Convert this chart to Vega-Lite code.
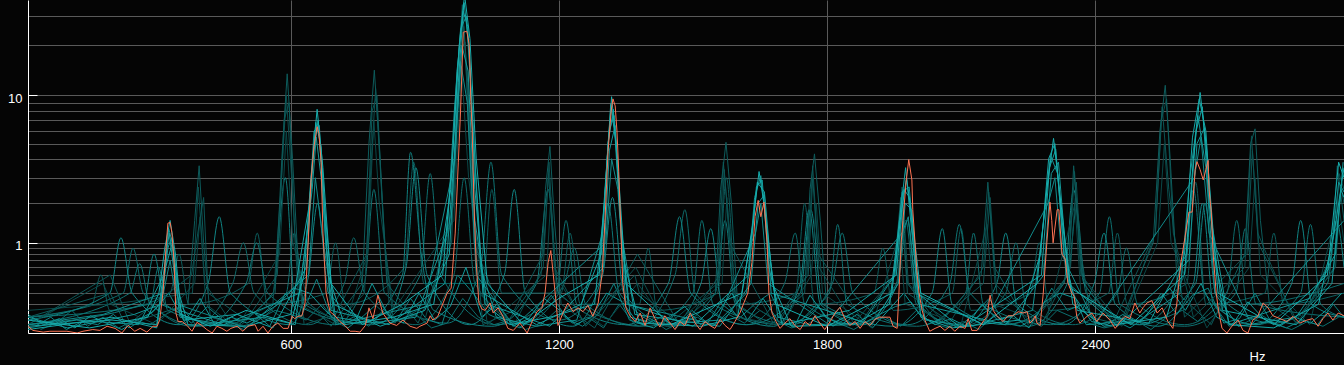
{
"$schema":"https://vega.github.io/schema/vega-lite/v6.json",
"width":1316,"height":333,
"autosize":{"type":"none"},
"padding":{"left":28,"top":0,"right":0,"bottom":32},
"background":"#050505",
"config":{"view":{"stroke":null},"axis":{"labelFont":"Liberation Sans","titleFont":"Liberation Sans"}},
"datasets":{
"teal":[
{"s":"fl3","hz":40,"amp":0.02},{"s":"fl3","hz":75,"amp":0.06},{"s":"fl3","hz":110,"amp":0.15},{"s":"fl3","hz":145,"amp":0.04},{"s":"fl3","hz":180,"amp":0.1},{"s":"fl3","hz":215,"amp":0.03},{"s":"fl3","hz":250,"amp":0.08},{"s":"fl3","hz":285,"amp":0.05},{"s":"fl3","hz":320,"amp":0.12},{"s":"fl3","hz":355,"amp":0.18},{"s":"fl3","hz":390,"amp":0.04},{"s":"fl3","hz":425,"amp":0.1},{"s":"fl3","hz":460,"amp":0.06},{"s":"fl3","hz":495,"amp":0.02},{"s":"fl3","hz":530,"amp":0.09},{"s":"fl3","hz":565,"amp":0.15},{"s":"fl3","hz":600,"amp":0.12},{"s":"fl3","hz":635,"amp":0.08},{"s":"fl3","hz":670,"amp":0.2},{"s":"fl3","hz":705,"amp":0.05},{"s":"fl3","hz":740,"amp":0.1},{"s":"fl3","hz":775,"amp":0.04},{"s":"fl3","hz":810,"amp":0.15},{"s":"fl3","hz":845,"amp":0.07},{"s":"fl3","hz":880,"amp":0.12},{"s":"fl3","hz":915,"amp":0.03},{"s":"fl3","hz":950,"amp":0.06},{"s":"fl3","hz":985,"amp":0.25},{"s":"fl3","hz":1020,"amp":0.1},{"s":"fl3","hz":1055,"amp":0.05},{"s":"fl3","hz":1090,"amp":0.08},{"s":"fl3","hz":1125,"amp":0.02},{"s":"fl3","hz":1160,"amp":0.05},{"s":"fl3","hz":1195,"amp":0.15},{"s":"fl3","hz":1230,"amp":0.06},{"s":"fl3","hz":1265,"amp":0.1},{"s":"fl3","hz":1300,"amp":0.03},{"s":"fl3","hz":1335,"amp":0.2},{"s":"fl3","hz":1370,"amp":0.05},{"s":"fl3","hz":1405,"amp":0.09},{"s":"fl3","hz":1440,"amp":0.02},{"s":"fl3","hz":1475,"amp":0.07},{"s":"fl3","hz":1510,"amp":0.1},{"s":"fl3","hz":1545,"amp":0.04},{"s":"fl3","hz":1580,"amp":0.12},{"s":"fl3","hz":1615,"amp":0.06},{"s":"fl3","hz":1650,"amp":0.15},{"s":"fl3","hz":1685,"amp":0.08},{"s":"fl3","hz":1720,"amp":0.03},{"s":"fl3","hz":1755,"amp":0.05},{"s":"fl3","hz":1790,"amp":0.12},{"s":"fl3","hz":1825,"amp":0.06},{"s":"fl3","hz":1860,"amp":0.02},{"s":"fl3","hz":1895,"amp":0.08},{"s":"fl3","hz":1930,"amp":0.1},{"s":"fl3","hz":1965,"amp":0.04},{"s":"fl3","hz":2000,"amp":0.15},{"s":"fl3","hz":2035,"amp":0.06},{"s":"fl3","hz":2070,"amp":0.03},{"s":"fl3","hz":2105,"amp":0.07},{"s":"fl3","hz":2140,"amp":0.02},{"s":"fl3","hz":2175,"amp":0.12},{"s":"fl3","hz":2210,"amp":0.05},{"s":"fl3","hz":2245,"amp":0.08},{"s":"fl3","hz":2280,"amp":0.04},{"s":"fl3","hz":2315,"amp":0.15},{"s":"fl3","hz":2350,"amp":0.1},{"s":"fl3","hz":2385,"amp":0.06},{"s":"fl3","hz":2420,"amp":0.03},{"s":"fl3","hz":2455,"amp":0.05},{"s":"fl3","hz":2490,"amp":0.08},{"s":"fl3","hz":2525,"amp":0.02},{"s":"fl3","hz":2560,"amp":0.1},{"s":"fl3","hz":2595,"amp":0.15},{"s":"fl3","hz":2630,"amp":0.07},{"s":"fl3","hz":2665,"amp":0.2},{"s":"fl3","hz":2700,"amp":0.04},{"s":"fl3","hz":2735,"amp":0.06},{"s":"fl3","hz":2770,"amp":0.12},{"s":"fl3","hz":2805,"amp":0.05},{"s":"fl3","hz":2840,"amp":0.02},{"s":"fl3","hz":2875,"amp":0.07},{"s":"fl3","hz":2910,"amp":0.04},{"s":"fl3","hz":2945,"amp":0.1},
{"s":"fl2","hz":28,"amp":0.04},{"s":"fl2","hz":63,"amp":0.1},{"s":"fl2","hz":98,"amp":0.02},{"s":"fl2","hz":133,"amp":0.07},{"s":"fl2","hz":168,"amp":0.05},{"s":"fl2","hz":203,"amp":0.12},{"s":"fl2","hz":238,"amp":0.03},{"s":"fl2","hz":273,"amp":0.09},{"s":"fl2","hz":308,"amp":0.2},{"s":"fl2","hz":343,"amp":0.15},{"s":"fl2","hz":378,"amp":0.06},{"s":"fl2","hz":413,"amp":0.18},{"s":"fl2","hz":448,"amp":0.08},{"s":"fl2","hz":483,"amp":0.05},{"s":"fl2","hz":518,"amp":0.13},{"s":"fl2","hz":553,"amp":0.04},{"s":"fl2","hz":588,"amp":0.3},{"s":"fl2","hz":623,"amp":0.1},{"s":"fl2","hz":658,"amp":0.45},{"s":"fl2","hz":693,"amp":0.08},{"s":"fl2","hz":728,"amp":0.03},{"s":"fl2","hz":763,"amp":0.11},{"s":"fl2","hz":798,"amp":0.22},{"s":"fl2","hz":833,"amp":0.06},{"s":"fl2","hz":868,"amp":0.25},{"s":"fl2","hz":903,"amp":0.09},{"s":"fl2","hz":938,"amp":0.05},{"s":"fl2","hz":973,"amp":0.5},{"s":"fl2","hz":1008,"amp":0.3},{"s":"fl2","hz":1043,"amp":0.12},{"s":"fl2","hz":1078,"amp":0.07},{"s":"fl2","hz":1113,"amp":0.03},{"s":"fl2","hz":1148,"amp":0.1},{"s":"fl2","hz":1183,"amp":0.28},{"s":"fl2","hz":1218,"amp":0.09},{"s":"fl2","hz":1253,"amp":0.04},{"s":"fl2","hz":1288,"amp":0.12},{"s":"fl2","hz":1323,"amp":0.4},{"s":"fl2","hz":1358,"amp":0.08},{"s":"fl2","hz":1393,"amp":0.05},{"s":"fl2","hz":1428,"amp":0.1},{"s":"fl2","hz":1463,"amp":0.03},{"s":"fl2","hz":1498,"amp":0.15},{"s":"fl2","hz":1533,"amp":0.06},{"s":"fl2","hz":1568,"amp":0.25},{"s":"fl2","hz":1603,"amp":0.09},{"s":"fl2","hz":1638,"amp":0.2},{"s":"fl2","hz":1673,"amp":0.3},{"s":"fl2","hz":1708,"amp":0.05},{"s":"fl2","hz":1743,"amp":0.08},{"s":"fl2","hz":1778,"amp":0.2},{"s":"fl2","hz":1813,"amp":0.04},{"s":"fl2","hz":1848,"amp":0.1},{"s":"fl2","hz":1883,"amp":0.06},{"s":"fl2","hz":1918,"amp":0.12},{"s":"fl2","hz":1953,"amp":0.18},{"s":"fl2","hz":1988,"amp":0.22},{"s":"fl2","hz":2023,"amp":0.05},{"s":"fl2","hz":2058,"amp":0.09},{"s":"fl2","hz":2093,"amp":0.03},{"s":"fl2","hz":2128,"amp":0.12},{"s":"fl2","hz":2163,"amp":0.25},{"s":"fl2","hz":2198,"amp":0.06},{"s":"fl2","hz":2233,"amp":0.04},{"s":"fl2","hz":2268,"amp":0.1},{"s":"fl2","hz":2303,"amp":0.35},{"s":"fl2","hz":2338,"amp":0.15},{"s":"fl2","hz":2373,"amp":0.2},{"s":"fl2","hz":2408,"amp":0.05},{"s":"fl2","hz":2443,"amp":0.08},{"s":"fl2","hz":2478,"amp":0.03},{"s":"fl2","hz":2513,"amp":0.1},{"s":"fl2","hz":2548,"amp":0.3},{"s":"fl2","hz":2583,"amp":0.12},{"s":"fl2","hz":2618,"amp":0.28},{"s":"fl2","hz":2653,"amp":0.35},{"s":"fl2","hz":2688,"amp":0.06},{"s":"fl2","hz":2723,"amp":0.09},{"s":"fl2","hz":2758,"amp":0.3},{"s":"fl2","hz":2793,"amp":0.07},{"s":"fl2","hz":2828,"amp":0.03},{"s":"fl2","hz":2863,"amp":0.08},{"s":"fl2","hz":2898,"amp":0.05},{"s":"fl2","hz":2933,"amp":0.2},{"s":"fl2","hz":2957,"amp":0.1},
{"s":"fl1","hz":12,"amp":0.12},{"s":"fl1","hz":47,"amp":0.05},{"s":"fl1","hz":82,"amp":0.09},{"s":"fl1","hz":117,"amp":0.03},{"s":"fl1","hz":152,"amp":0.11},{"s":"fl1","hz":187,"amp":0.06},{"s":"fl1","hz":222,"amp":0.02},{"s":"fl1","hz":257,"amp":0.08},{"s":"fl1","hz":292,"amp":0.14},{"s":"fl1","hz":327,"amp":0.3},{"s":"fl1","hz":362,"amp":0.07},{"s":"fl1","hz":397,"amp":0.25},{"s":"fl1","hz":432,"amp":0.04},{"s":"fl1","hz":467,"amp":0.1},{"s":"fl1","hz":502,"amp":0.06},{"s":"fl1","hz":537,"amp":0.12},{"s":"fl1","hz":572,"amp":0.2},{"s":"fl1","hz":607,"amp":0.35},{"s":"fl1","hz":642,"amp":0.3},{"s":"fl1","hz":677,"amp":0.15},{"s":"fl1","hz":712,"amp":0.05},{"s":"fl1","hz":747,"amp":0.09},{"s":"fl1","hz":782,"amp":0.4},{"s":"fl1","hz":817,"amp":0.12},{"s":"fl1","hz":852,"amp":0.06},{"s":"fl1","hz":887,"amp":0.3},{"s":"fl1","hz":922,"amp":0.08},{"s":"fl1","hz":957,"amp":0.18},{"s":"fl1","hz":992,"amp":0.6},{"s":"fl1","hz":1027,"amp":0.1},{"s":"fl1","hz":1062,"amp":0.2},{"s":"fl1","hz":1097,"amp":0.04},{"s":"fl1","hz":1132,"amp":0.09},{"s":"fl1","hz":1167,"amp":0.25},{"s":"fl1","hz":1202,"amp":0.15},{"s":"fl1","hz":1237,"amp":0.05},{"s":"fl1","hz":1272,"amp":0.1},{"s":"fl1","hz":1307,"amp":0.3},{"s":"fl1","hz":1342,"amp":0.22},{"s":"fl1","hz":1377,"amp":0.06},{"s":"fl1","hz":1412,"amp":0.03},{"s":"fl1","hz":1447,"amp":0.1},{"s":"fl1","hz":1482,"amp":0.18},{"s":"fl1","hz":1517,"amp":0.05},{"s":"fl1","hz":1552,"amp":0.12},{"s":"fl1","hz":1587,"amp":0.3},{"s":"fl1","hz":1622,"amp":0.08},{"s":"fl1","hz":1657,"amp":0.25},{"s":"fl1","hz":1692,"amp":0.07},{"s":"fl1","hz":1727,"amp":0.04},{"s":"fl1","hz":1762,"amp":0.28},{"s":"fl1","hz":1797,"amp":0.1},{"s":"fl1","hz":1832,"amp":0.05},{"s":"fl1","hz":1867,"amp":0.12},{"s":"fl1","hz":1902,"amp":0.03},{"s":"fl1","hz":1937,"amp":0.15},{"s":"fl1","hz":1972,"amp":0.3},{"s":"fl1","hz":2007,"amp":0.12},{"s":"fl1","hz":2042,"amp":0.05},{"s":"fl1","hz":2077,"amp":0.09},{"s":"fl1","hz":2112,"amp":0.04},{"s":"fl1","hz":2147,"amp":0.2},{"s":"fl1","hz":2182,"amp":0.08},{"s":"fl1","hz":2217,"amp":0.11},{"s":"fl1","hz":2252,"amp":0.03},{"s":"fl1","hz":2287,"amp":0.22},{"s":"fl1","hz":2322,"amp":0.3},{"s":"fl1","hz":2357,"amp":0.25},{"s":"fl1","hz":2392,"amp":0.07},{"s":"fl1","hz":2427,"amp":0.05},{"s":"fl1","hz":2462,"amp":0.12},{"s":"fl1","hz":2497,"amp":0.06},{"s":"fl1","hz":2532,"amp":0.18},{"s":"fl1","hz":2567,"amp":0.35},{"s":"fl1","hz":2602,"amp":0.15},{"s":"fl1","hz":2637,"amp":0.4},{"s":"fl1","hz":2672,"amp":0.1},{"s":"fl1","hz":2707,"amp":0.05},{"s":"fl1","hz":2742,"amp":0.22},{"s":"fl1","hz":2777,"amp":0.09},{"s":"fl1","hz":2812,"amp":0.04},{"s":"fl1","hz":2847,"amp":0.1},{"s":"fl1","hz":2882,"amp":0.06},{"s":"fl1","hz":2917,"amp":0.15},{"s":"fl1","hz":2952,"amp":0.3},
{"s":"g3","hz":12,"amp":0.15},{"s":"g3","hz":196,"amp":0.2},{"s":"g3","hz":300,"amp":0.05},{"s":"g3","hz":385,"amp":0.4},{"s":"g3","hz":397,"amp":1.6},{"s":"g3","hz":410,"amp":0.2},{"s":"g3","hz":480,"amp":0.03},{"s":"g3","hz":575,"amp":0.8},{"s":"g3","hz":590,"amp":6},{"s":"g3","hz":605,"amp":1},{"s":"g3","hz":640,"amp":0.2},{"s":"g3","hz":720,"amp":0.04},{"s":"g3","hz":772,"amp":0.8},{"s":"g3","hz":786,"amp":7},{"s":"g3","hz":798,"amp":2},{"s":"g3","hz":830,"amp":0.15},{"s":"g3","hz":965,"amp":1.5},{"s":"g3","hz":982,"amp":15},{"s":"g3","hz":998,"amp":3},{"s":"g3","hz":1040,"amp":0.05},{"s":"g3","hz":1172,"amp":0.5},{"s":"g3","hz":1182,"amp":2.2},{"s":"g3","hz":1195,"amp":0.3},{"s":"g3","hz":1300,"amp":0.04},{"s":"g3","hz":1376,"amp":0.4},{"s":"g3","hz":1450,"amp":0.03},{"s":"g3","hz":1565,"amp":0.4},{"s":"g3","hz":1576,"amp":2.2},{"s":"g3","hz":1590,"amp":0.3},{"s":"g3","hz":1700,"amp":0.05},{"s":"g3","hz":1765,"amp":0.5},{"s":"g3","hz":1776,"amp":2},{"s":"g3","hz":1790,"amp":0.3},{"s":"g3","hz":1900,"amp":0.03},{"s":"g3","hz":1962,"amp":1.2},{"s":"g3","hz":1975,"amp":0.2},{"s":"g3","hz":2100,"amp":0.05},{"s":"g3","hz":2158,"amp":1.4},{"s":"g3","hz":2172,"amp":0.2},{"s":"g3","hz":2290,"amp":0.06},{"s":"g3","hz":2355,"amp":2.0},{"s":"g3","hz":2368,"amp":0.3},{"s":"g3","hz":2460,"amp":0.04},{"s":"g3","hz":2540,"amp":1},{"s":"g3","hz":2555,"amp":5},{"s":"g3","hz":2570,"amp":1},{"s":"g3","hz":2650,"amp":0.03},{"s":"g3","hz":2745,"amp":0.6},{"s":"g3","hz":2758,"amp":3},{"s":"g3","hz":2770,"amp":0.5},{"s":"g3","hz":2880,"amp":0.05},{"s":"g3","hz":2945,"amp":2},{"s":"g3","hz":2957,"amp":1},
{"s":"g4","hz":12,"amp":0.05},{"s":"g4","hz":180,"amp":0.4},{"s":"g4","hz":200,"amp":0.2},{"s":"g4","hz":380,"amp":0.3},{"s":"g4","hz":393,"amp":2.6},{"s":"g4","hz":408,"amp":0.4},{"s":"g4","hz":470,"amp":0.05},{"s":"g4","hz":560,"amp":0.2},{"s":"g4","hz":578,"amp":2.5},{"s":"g4","hz":590,"amp":10},{"s":"g4","hz":602,"amp":3},{"s":"g4","hz":618,"amp":0.2},{"s":"g4","hz":700,"amp":0.05},{"s":"g4","hz":765,"amp":0.3},{"s":"g4","hz":778,"amp":3},{"s":"g4","hz":790,"amp":11},{"s":"g4","hz":803,"amp":2.5},{"s":"g4","hz":820,"amp":0.2},{"s":"g4","hz":900,"amp":0.08},{"s":"g4","hz":960,"amp":1.5},{"s":"g4","hz":975,"amp":10},{"s":"g4","hz":987,"amp":26},{"s":"g4","hz":1000,"amp":6},{"s":"g4","hz":1020,"amp":0.3},{"s":"g4","hz":1100,"amp":0.05},{"s":"g4","hz":1165,"amp":0.6},{"s":"g4","hz":1178,"amp":3.8},{"s":"g4","hz":1192,"amp":0.5},{"s":"g4","hz":1260,"amp":0.05},{"s":"g4","hz":1372,"amp":0.6},{"s":"g4","hz":1440,"amp":0.04},{"s":"g4","hz":1555,"amp":0.4},{"s":"g4","hz":1568,"amp":3.8},{"s":"g4","hz":1580,"amp":1.5},{"s":"g4","hz":1600,"amp":0.1},{"s":"g4","hz":1690,"amp":0.05},{"s":"g4","hz":1755,"amp":0.5},{"s":"g4","hz":1768,"amp":3.6},{"s":"g4","hz":1782,"amp":0.6},{"s":"g4","hz":1860,"amp":0.06},{"s":"g4","hz":1955,"amp":0.5},{"s":"g4","hz":1968,"amp":2.6},{"s":"g4","hz":1982,"amp":0.4},{"s":"g4","hz":2070,"amp":0.04},{"s":"g4","hz":2150,"amp":0.6},{"s":"g4","hz":2162,"amp":2.4},{"s":"g4","hz":2176,"amp":0.4},{"s":"g4","hz":2260,"amp":0.05},{"s":"g4","hz":2340,"amp":0.5},{"s":"g4","hz":2354,"amp":3.3},{"s":"g4","hz":2368,"amp":0.5},{"s":"g4","hz":2460,"amp":0.05},{"s":"g4","hz":2535,"amp":1.2},{"s":"g4","hz":2548,"amp":7},{"s":"g4","hz":2560,"amp":9.5},{"s":"g4","hz":2575,"amp":1.2},{"s":"g4","hz":2620,"amp":0.1},{"s":"g4","hz":2735,"amp":0.6},{"s":"g4","hz":2750,"amp":5.6},{"s":"g4","hz":2764,"amp":1.2},{"s":"g4","hz":2850,"amp":0.05},{"s":"g4","hz":2935,"amp":0.6},{"s":"g4","hz":2946,"amp":3.2},{"s":"g4","hz":2957,"amp":2.5},
{"s":"g2","hz":12,"amp":0.05},{"s":"g2","hz":196,"amp":0.5},{"s":"g2","hz":240,"amp":0.06},{"s":"g2","hz":378,"amp":0.5},{"s":"g2","hz":392,"amp":1.2},{"s":"g2","hz":405,"amp":2.2},{"s":"g2","hz":415,"amp":0.3},{"s":"g2","hz":500,"amp":0.08},{"s":"g2","hz":570,"amp":0.5},{"s":"g2","hz":585,"amp":7},{"s":"g2","hz":596,"amp":9},{"s":"g2","hz":610,"amp":1},{"s":"g2","hz":630,"amp":0.05},{"s":"g2","hz":700,"amp":0.12},{"s":"g2","hz":770,"amp":0.8},{"s":"g2","hz":782,"amp":8},{"s":"g2","hz":793,"amp":10},{"s":"g2","hz":808,"amp":1.2},{"s":"g2","hz":830,"amp":0.06},{"s":"g2","hz":910,"amp":0.2},{"s":"g2","hz":965,"amp":2},{"s":"g2","hz":978,"amp":18},{"s":"g2","hz":990,"amp":21},{"s":"g2","hz":1005,"amp":2},{"s":"g2","hz":1030,"amp":0.05},{"s":"g2","hz":1100,"amp":0.15},{"s":"g2","hz":1165,"amp":0.8},{"s":"g2","hz":1177,"amp":3.2},{"s":"g2","hz":1190,"amp":0.6},{"s":"g2","hz":1260,"amp":0.04},{"s":"g2","hz":1370,"amp":0.5},{"s":"g2","hz":1380,"amp":0.3},{"s":"g2","hz":1480,"amp":0.04},{"s":"g2","hz":1560,"amp":0.5},{"s":"g2","hz":1570,"amp":3.4},{"s":"g2","hz":1582,"amp":1},{"s":"g2","hz":1680,"amp":0.06},{"s":"g2","hz":1758,"amp":0.5},{"s":"g2","hz":1768,"amp":3},{"s":"g2","hz":1780,"amp":0.8},{"s":"g2","hz":1880,"amp":0.08},{"s":"g2","hz":1958,"amp":0.4},{"s":"g2","hz":1968,"amp":1.8},{"s":"g2","hz":1980,"amp":0.3},{"s":"g2","hz":2060,"amp":0.1},{"s":"g2","hz":2150,"amp":0.4},{"s":"g2","hz":2165,"amp":2.2},{"s":"g2","hz":2180,"amp":0.3},{"s":"g2","hz":2280,"amp":0.05},{"s":"g2","hz":2345,"amp":0.6},{"s":"g2","hz":2358,"amp":2.8},{"s":"g2","hz":2370,"amp":0.5},{"s":"g2","hz":2440,"amp":0.06},{"s":"g2","hz":2535,"amp":1.2},{"s":"g2","hz":2550,"amp":8.5},{"s":"g2","hz":2565,"amp":2.5},{"s":"g2","hz":2600,"amp":0.1},{"s":"g2","hz":2740,"amp":0.8},{"s":"g2","hz":2752,"amp":4.5},{"s":"g2","hz":2765,"amp":1},{"s":"g2","hz":2850,"amp":0.08},{"s":"g2","hz":2938,"amp":0.6},{"s":"g2","hz":2950,"amp":2.6},{"s":"g2","hz":2957,"amp":2},
{"s":"f1","hz":12,"amp":0.1},{"s":"f1","hz":155,"amp":0.2},{"s":"f1","hz":175,"amp":0.5},{"s":"f1","hz":195,"amp":0.15},{"s":"f1","hz":330,"amp":0.3},{"s":"f1","hz":350,"amp":0.8},{"s":"f1","hz":372,"amp":0.2},{"s":"f1","hz":505,"amp":0.4},{"s":"f1","hz":525,"amp":1.2},{"s":"f1","hz":548,"amp":0.2},{"s":"f1","hz":680,"amp":0.3},{"s":"f1","hz":700,"amp":1},{"s":"f1","hz":722,"amp":0.2},{"s":"f1","hz":855,"amp":0.6},{"s":"f1","hz":875,"amp":3.8},{"s":"f1","hz":898,"amp":0.4},{"s":"f1","hz":1030,"amp":0.4},{"s":"f1","hz":1050,"amp":2.5},{"s":"f1","hz":1072,"amp":0.3},{"s":"f1","hz":1205,"amp":0.3},{"s":"f1","hz":1225,"amp":1.2},{"s":"f1","hz":1248,"amp":0.2},{"s":"f1","hz":1380,"amp":0.2},{"s":"f1","hz":1400,"amp":0.9},{"s":"f1","hz":1420,"amp":0.15},{"s":"f1","hz":1555,"amp":0.3},{"s":"f1","hz":1575,"amp":3},{"s":"f1","hz":1598,"amp":0.2},{"s":"f1","hz":1730,"amp":0.3},{"s":"f1","hz":1750,"amp":2},{"s":"f1","hz":1772,"amp":0.2},{"s":"f1","hz":1905,"amp":0.3},{"s":"f1","hz":1925,"amp":0.9},{"s":"f1","hz":1948,"amp":0.15},{"s":"f1","hz":2080,"amp":0.3},{"s":"f1","hz":2100,"amp":1.3},{"s":"f1","hz":2122,"amp":0.15},{"s":"f1","hz":2255,"amp":0.3},{"s":"f1","hz":2275,"amp":1.0},{"s":"f1","hz":2298,"amp":0.15},{"s":"f1","hz":2430,"amp":0.3},{"s":"f1","hz":2450,"amp":1.2},{"s":"f1","hz":2472,"amp":0.2},{"s":"f1","hz":2605,"amp":0.4},{"s":"f1","hz":2625,"amp":2.8},{"s":"f1","hz":2648,"amp":0.2},{"s":"f1","hz":2780,"amp":0.3},{"s":"f1","hz":2800,"amp":1.2},{"s":"f1","hz":2822,"amp":0.2},{"s":"f1","hz":2957,"amp":0.3},
{"s":"g1","hz":12,"amp":0.1},{"s":"g1","hz":196,"amp":0.3},{"s":"g1","hz":230,"amp":0.05},{"s":"g1","hz":370,"amp":0.2},{"s":"g1","hz":385,"amp":1.5},{"s":"g1","hz":395,"amp":3.6},{"s":"g1","hz":405,"amp":1.0},{"s":"g1","hz":420,"amp":0.1},{"s":"g1","hz":490,"amp":0.05},{"s":"g1","hz":565,"amp":0.3},{"s":"g1","hz":580,"amp":4},{"s":"g1","hz":592,"amp":13.5},{"s":"g1","hz":604,"amp":4},{"s":"g1","hz":620,"amp":0.3},{"s":"g1","hz":690,"amp":0.04},{"s":"g1","hz":760,"amp":0.4},{"s":"g1","hz":775,"amp":5},{"s":"g1","hz":787,"amp":14.2},{"s":"g1","hz":800,"amp":4},{"s":"g1","hz":815,"amp":0.4},{"s":"g1","hz":885,"amp":0.06},{"s":"g1","hz":960,"amp":1},{"s":"g1","hz":972,"amp":12},{"s":"g1","hz":984,"amp":35},{"s":"g1","hz":996,"amp":12},{"s":"g1","hz":1010,"amp":1},{"s":"g1","hz":1080,"amp":0.05},{"s":"g1","hz":1160,"amp":0.5},{"s":"g1","hz":1170,"amp":2.5},{"s":"g1","hz":1180,"amp":4.8},{"s":"g1","hz":1190,"amp":1.5},{"s":"g1","hz":1205,"amp":0.2},{"s":"g1","hz":1280,"amp":0.03},{"s":"g1","hz":1376,"amp":0.8},{"s":"g1","hz":1470,"amp":0.05},{"s":"g1","hz":1550,"amp":0.3},{"s":"g1","hz":1562,"amp":2.5},{"s":"g1","hz":1574,"amp":5.1},{"s":"g1","hz":1586,"amp":2},{"s":"g1","hz":1600,"amp":0.2},{"s":"g1","hz":1670,"amp":0.04},{"s":"g1","hz":1750,"amp":0.3},{"s":"g1","hz":1762,"amp":2.5},{"s":"g1","hz":1772,"amp":4.3},{"s":"g1","hz":1785,"amp":1.5},{"s":"g1","hz":1800,"amp":0.15},{"s":"g1","hz":1870,"amp":0.04},{"s":"g1","hz":1950,"amp":0.5},{"s":"g1","hz":1965,"amp":2.2},{"s":"g1","hz":1980,"amp":0.4},{"s":"g1","hz":2050,"amp":0.05},{"s":"g1","hz":2145,"amp":0.5},{"s":"g1","hz":2160,"amp":2.8},{"s":"g1","hz":2175,"amp":0.6},{"s":"g1","hz":2250,"amp":0.05},{"s":"g1","hz":2340,"amp":0.5},{"s":"g1","hz":2352,"amp":3.6},{"s":"g1","hz":2365,"amp":1},{"s":"g1","hz":2390,"amp":0.1},{"s":"g1","hz":2455,"amp":0.05},{"s":"g1","hz":2530,"amp":1},{"s":"g1","hz":2545,"amp":6},{"s":"g1","hz":2557,"amp":11.5},{"s":"g1","hz":2568,"amp":4},{"s":"g1","hz":2585,"amp":0.3},{"s":"g1","hz":2660,"amp":0.05},{"s":"g1","hz":2735,"amp":0.8},{"s":"g1","hz":2748,"amp":5},{"s":"g1","hz":2758,"amp":6.2},{"s":"g1","hz":2770,"amp":1.5},{"s":"g1","hz":2790,"amp":0.2},{"s":"g1","hz":2860,"amp":0.05},{"s":"g1","hz":2930,"amp":0.8},{"s":"g1","hz":2942,"amp":3.6},{"s":"g1","hz":2957,"amp":1.5},
{"s":"b1","hz":12,"amp":0.1},{"s":"b1","hz":225,"amp":0.3},{"s":"b1","hz":247,"amp":0.9},{"s":"b1","hz":270,"amp":0.3},{"s":"b1","hz":380,"amp":0.04},{"s":"b1","hz":470,"amp":0.4},{"s":"b1","hz":494,"amp":1.0},{"s":"b1","hz":518,"amp":0.3},{"s":"b1","hz":640,"amp":0.05},{"s":"b1","hz":720,"amp":0.4},{"s":"b1","hz":741,"amp":1.1},{"s":"b1","hz":765,"amp":0.3},{"s":"b1","hz":880,"amp":0.05},{"s":"b1","hz":965,"amp":0.5},{"s":"b1","hz":988,"amp":3},{"s":"b1","hz":1012,"amp":0.4},{"s":"b1","hz":1120,"amp":0.06},{"s":"b1","hz":1212,"amp":0.4},{"s":"b1","hz":1235,"amp":0.9},{"s":"b1","hz":1260,"amp":0.2},{"s":"b1","hz":1380,"amp":0.04},{"s":"b1","hz":1460,"amp":0.5},{"s":"b1","hz":1482,"amp":1.8},{"s":"b1","hz":1505,"amp":0.3},{"s":"b1","hz":1620,"amp":0.05},{"s":"b1","hz":1705,"amp":0.4},{"s":"b1","hz":1729,"amp":1.2},{"s":"b1","hz":1750,"amp":0.2},{"s":"b1","hz":1870,"amp":0.05},{"s":"b1","hz":1955,"amp":0.4},{"s":"b1","hz":1976,"amp":1.5},{"s":"b1","hz":2000,"amp":0.2},{"s":"b1","hz":2100,"amp":0.04},{"s":"b1","hz":2200,"amp":0.3},{"s":"b1","hz":2223,"amp":1.0},{"s":"b1","hz":2245,"amp":0.2},{"s":"b1","hz":2350,"amp":0.05},{"s":"b1","hz":2450,"amp":0.3},{"s":"b1","hz":2470,"amp":0.9},{"s":"b1","hz":2495,"amp":0.2},{"s":"b1","hz":2600,"amp":0.05},{"s":"b1","hz":2695,"amp":0.3},{"s":"b1","hz":2717,"amp":1.5},{"s":"b1","hz":2740,"amp":0.2},{"s":"b1","hz":2957,"amp":0.4},
{"s":"c1","hz":12,"amp":0.05},{"s":"c1","hz":240,"amp":0.3},{"s":"c1","hz":262,"amp":0.65},{"s":"c1","hz":285,"amp":0.2},{"s":"c1","hz":400,"amp":0.04},{"s":"c1","hz":500,"amp":0.4},{"s":"c1","hz":524,"amp":1.0},{"s":"c1","hz":548,"amp":0.3},{"s":"c1","hz":700,"amp":0.05},{"s":"c1","hz":765,"amp":0.4},{"s":"c1","hz":786,"amp":2.5},{"s":"c1","hz":810,"amp":0.3},{"s":"c1","hz":950,"amp":0.06},{"s":"c1","hz":1025,"amp":0.6},{"s":"c1","hz":1048,"amp":3.8},{"s":"c1","hz":1072,"amp":0.5},{"s":"c1","hz":1200,"amp":0.08},{"s":"c1","hz":1290,"amp":0.4},{"s":"c1","hz":1310,"amp":2},{"s":"c1","hz":1335,"amp":0.3},{"s":"c1","hz":1450,"amp":0.04},{"s":"c1","hz":1550,"amp":0.3},{"s":"c1","hz":1572,"amp":1.5},{"s":"c1","hz":1595,"amp":0.2},{"s":"c1","hz":1720,"amp":0.05},{"s":"c1","hz":1812,"amp":0.4},{"s":"c1","hz":1834,"amp":1.2},{"s":"c1","hz":1858,"amp":0.3},{"s":"c1","hz":1980,"amp":0.05},{"s":"c1","hz":2075,"amp":0.4},{"s":"c1","hz":2096,"amp":1.4},{"s":"c1","hz":2120,"amp":0.3},{"s":"c1","hz":2250,"amp":0.04},{"s":"c1","hz":2338,"amp":0.4},{"s":"c1","hz":2358,"amp":1.8},{"s":"c1","hz":2380,"amp":0.3},{"s":"c1","hz":2500,"amp":0.05},{"s":"c1","hz":2600,"amp":0.5},{"s":"c1","hz":2620,"amp":2.5},{"s":"c1","hz":2645,"amp":0.3},{"s":"c1","hz":2760,"amp":0.05},{"s":"c1","hz":2860,"amp":0.3},{"s":"c1","hz":2882,"amp":1.4},{"s":"c1","hz":2905,"amp":0.2},{"s":"c1","hz":2957,"amp":0.1},
{"s":"d2","hz":12,"amp":0.1},{"s":"d2","hz":285,"amp":0.2},{"s":"d2","hz":304,"amp":0.6},{"s":"d2","hz":325,"amp":0.15},{"s":"d2","hz":480,"amp":0.04},{"s":"d2","hz":590,"amp":0.3},{"s":"d2","hz":608,"amp":1.2},{"s":"d2","hz":630,"amp":0.2},{"s":"d2","hz":780,"amp":0.05},{"s":"d2","hz":890,"amp":0.5},{"s":"d2","hz":912,"amp":3.2},{"s":"d2","hz":935,"amp":0.5},{"s":"d2","hz":1060,"amp":0.05},{"s":"d2","hz":1195,"amp":0.3},{"s":"d2","hz":1216,"amp":1.5},{"s":"d2","hz":1240,"amp":0.2},{"s":"d2","hz":1400,"amp":0.04},{"s":"d2","hz":1500,"amp":0.3},{"s":"d2","hz":1520,"amp":1.5},{"s":"d2","hz":1545,"amp":0.2},{"s":"d2","hz":1700,"amp":0.05},{"s":"d2","hz":1805,"amp":0.3},{"s":"d2","hz":1824,"amp":1.4},{"s":"d2","hz":1845,"amp":0.2},{"s":"d2","hz":2000,"amp":0.04},{"s":"d2","hz":2110,"amp":0.3},{"s":"d2","hz":2128,"amp":1.2},{"s":"d2","hz":2150,"amp":0.2},{"s":"d2","hz":2300,"amp":0.05},{"s":"d2","hz":2410,"amp":0.3},{"s":"d2","hz":2432,"amp":1.6},{"s":"d2","hz":2455,"amp":0.2},{"s":"d2","hz":2600,"amp":0.04},{"s":"d2","hz":2715,"amp":0.3},{"s":"d2","hz":2736,"amp":1.3},{"s":"d2","hz":2760,"amp":0.2},{"s":"d2","hz":2957,"amp":0.1},
{"s":"d1","hz":12,"amp":0.05},{"s":"d1","hz":270,"amp":0.2},{"s":"d1","hz":294,"amp":0.8},{"s":"d1","hz":318,"amp":0.2},{"s":"d1","hz":450,"amp":0.05},{"s":"d1","hz":560,"amp":0.3},{"s":"d1","hz":588,"amp":3},{"s":"d1","hz":610,"amp":0.2},{"s":"d1","hz":760,"amp":0.06},{"s":"d1","hz":850,"amp":0.5},{"s":"d1","hz":868,"amp":4.4},{"s":"d1","hz":892,"amp":0.8},{"s":"d1","hz":920,"amp":0.15},{"s":"d1","hz":1050,"amp":0.04},{"s":"d1","hz":1150,"amp":0.4},{"s":"d1","hz":1176,"amp":2.5},{"s":"d1","hz":1200,"amp":0.3},{"s":"d1","hz":1350,"amp":0.05},{"s":"d1","hz":1445,"amp":0.4},{"s":"d1","hz":1470,"amp":1.6},{"s":"d1","hz":1495,"amp":0.3},{"s":"d1","hz":1620,"amp":0.05},{"s":"d1","hz":1740,"amp":0.3},{"s":"d1","hz":1764,"amp":1.8},{"s":"d1","hz":1790,"amp":0.2},{"s":"d1","hz":1950,"amp":0.04},{"s":"d1","hz":2035,"amp":0.3},{"s":"d1","hz":2058,"amp":1.3},{"s":"d1","hz":2080,"amp":0.2},{"s":"d1","hz":2200,"amp":0.05},{"s":"d1","hz":2330,"amp":0.4},{"s":"d1","hz":2352,"amp":2.5},{"s":"d1","hz":2375,"amp":0.4},{"s":"d1","hz":2500,"amp":0.05},{"s":"d1","hz":2625,"amp":0.4},{"s":"d1","hz":2646,"amp":2},{"s":"d1","hz":2670,"amp":0.3},{"s":"d1","hz":2800,"amp":0.06},{"s":"d1","hz":2920,"amp":0.4},{"s":"d1","hz":2940,"amp":1.5},{"s":"d1","hz":2957,"amp":0.6},
{"s":"a1","hz":12,"amp":0.08},{"s":"a1","hz":195,"amp":0.3},{"s":"a1","hz":220,"amp":1.1},{"s":"a1","hz":245,"amp":0.3},{"s":"a1","hz":350,"amp":0.05},{"s":"a1","hz":415,"amp":0.4},{"s":"a1","hz":440,"amp":1.6},{"s":"a1","hz":465,"amp":0.3},{"s":"a1","hz":600,"amp":0.05},{"s":"a1","hz":640,"amp":0.5},{"s":"a1","hz":660,"amp":2},{"s":"a1","hz":685,"amp":0.3},{"s":"a1","hz":800,"amp":0.06},{"s":"a1","hz":858,"amp":0.6},{"s":"a1","hz":880,"amp":3.5},{"s":"a1","hz":905,"amp":0.5},{"s":"a1","hz":1000,"amp":0.05},{"s":"a1","hz":1078,"amp":0.5},{"s":"a1","hz":1100,"amp":2.5},{"s":"a1","hz":1125,"amp":0.3},{"s":"a1","hz":1230,"amp":0.04},{"s":"a1","hz":1298,"amp":0.5},{"s":"a1","hz":1320,"amp":2.2},{"s":"a1","hz":1345,"amp":0.3},{"s":"a1","hz":1450,"amp":0.05},{"s":"a1","hz":1518,"amp":0.4},{"s":"a1","hz":1540,"amp":1.3},{"s":"a1","hz":1565,"amp":0.2},{"s":"a1","hz":1680,"amp":0.04},{"s":"a1","hz":1740,"amp":0.4},{"s":"a1","hz":1760,"amp":1.8},{"s":"a1","hz":1785,"amp":0.2},{"s":"a1","hz":1880,"amp":0.05},{"s":"a1","hz":1958,"amp":0.4},{"s":"a1","hz":1980,"amp":1.5},{"s":"a1","hz":2005,"amp":0.2},{"s":"a1","hz":2100,"amp":0.04},{"s":"a1","hz":2180,"amp":0.4},{"s":"a1","hz":2200,"amp":1.2},{"s":"a1","hz":2225,"amp":0.2},{"s":"a1","hz":2330,"amp":0.05},{"s":"a1","hz":2398,"amp":0.4},{"s":"a1","hz":2420,"amp":1.2},{"s":"a1","hz":2445,"amp":0.2},{"s":"a1","hz":2540,"amp":0.04},{"s":"a1","hz":2620,"amp":0.4},{"s":"a1","hz":2640,"amp":2},{"s":"a1","hz":2665,"amp":0.2},{"s":"a1","hz":2760,"amp":0.05},{"s":"a1","hz":2840,"amp":0.4},{"s":"a1","hz":2860,"amp":1.5},{"s":"a1","hz":2885,"amp":0.2},{"s":"a1","hz":2957,"amp":0.1},
{"s":"e4","hz":12,"amp":0.05},{"s":"e4","hz":180,"amp":0.12},{"s":"e4","hz":315,"amp":0.3},{"s":"e4","hz":330,"amp":0.7},{"s":"e4","hz":345,"amp":0.2},{"s":"e4","hz":500,"amp":0.03},{"s":"e4","hz":640,"amp":0.5},{"s":"e4","hz":655,"amp":3},{"s":"e4","hz":670,"amp":1.2},{"s":"e4","hz":700,"amp":0.05},{"s":"e4","hz":900,"amp":0.2},{"s":"e4","hz":968,"amp":4},{"s":"e4","hz":980,"amp":16},{"s":"e4","hz":995,"amp":9},{"s":"e4","hz":1015,"amp":0.5},{"s":"e4","hz":1100,"amp":0.04},{"s":"e4","hz":1305,"amp":1},{"s":"e4","hz":1318,"amp":4},{"s":"e4","hz":1332,"amp":2.5},{"s":"e4","hz":1350,"amp":0.2},{"s":"e4","hz":1550,"amp":0.05},{"s":"e4","hz":1640,"amp":1.2},{"s":"e4","hz":1652,"amp":2},{"s":"e4","hz":1668,"amp":0.4},{"s":"e4","hz":1800,"amp":0.06},{"s":"e4","hz":1968,"amp":1.2},{"s":"e4","hz":1982,"amp":1.6},{"s":"e4","hz":1998,"amp":0.3},{"s":"e4","hz":2150,"amp":0.05},{"s":"e4","hz":2295,"amp":2},{"s":"e4","hz":2310,"amp":3},{"s":"e4","hz":2325,"amp":0.8},{"s":"e4","hz":2400,"amp":0.06},{"s":"e4","hz":2622,"amp":3},{"s":"e4","hz":2637,"amp":5.5},{"s":"e4","hz":2655,"amp":1.2},{"s":"e4","hz":2750,"amp":0.05},{"s":"e4","hz":2957,"amp":1.5},
{"s":"e5","hz":12,"amp":0.03},{"s":"e5","hz":120,"amp":0.08},{"s":"e5","hz":260,"amp":0.05},{"s":"e5","hz":316,"amp":0.5},{"s":"e5","hz":327,"amp":1.3},{"s":"e5","hz":338,"amp":0.9},{"s":"e5","hz":352,"amp":0.1},{"s":"e5","hz":430,"amp":0.06},{"s":"e5","hz":540,"amp":0.1},{"s":"e5","hz":610,"amp":0.05},{"s":"e5","hz":640,"amp":1.5},{"s":"e5","hz":652,"amp":6},{"s":"e5","hz":664,"amp":6.5},{"s":"e5","hz":678,"amp":1},{"s":"e5","hz":700,"amp":0.1},{"s":"e5","hz":780,"amp":0.06},{"s":"e5","hz":880,"amp":0.1},{"s":"e5","hz":950,"amp":1.2},{"s":"e5","hz":966,"amp":8},{"s":"e5","hz":980,"amp":25},{"s":"e5","hz":993,"amp":30},{"s":"e5","hz":1006,"amp":8},{"s":"e5","hz":1025,"amp":0.6},{"s":"e5","hz":1060,"amp":0.1},{"s":"e5","hz":1150,"amp":0.04},{"s":"e5","hz":1240,"amp":0.08},{"s":"e5","hz":1298,"amp":1.2},{"s":"e5","hz":1312,"amp":6},{"s":"e5","hz":1324,"amp":7.5},{"s":"e5","hz":1338,"amp":1.5},{"s":"e5","hz":1360,"amp":0.1},{"s":"e5","hz":1420,"amp":0.05},{"s":"e5","hz":1560,"amp":0.08},{"s":"e5","hz":1620,"amp":0.3},{"s":"e5","hz":1638,"amp":2.2},{"s":"e5","hz":1652,"amp":3.1},{"s":"e5","hz":1668,"amp":1},{"s":"e5","hz":1690,"amp":0.1},{"s":"e5","hz":1760,"amp":0.05},{"s":"e5","hz":1880,"amp":0.06},{"s":"e5","hz":1952,"amp":0.5},{"s":"e5","hz":1968,"amp":2.4},{"s":"e5","hz":1984,"amp":2.6},{"s":"e5","hz":2000,"amp":0.6},{"s":"e5","hz":2020,"amp":0.08},{"s":"e5","hz":2120,"amp":0.04},{"s":"e5","hz":2260,"amp":0.15},{"s":"e5","hz":2285,"amp":1.5},{"s":"e5","hz":2300,"amp":4.2},{"s":"e5","hz":2316,"amp":3.2},{"s":"e5","hz":2335,"amp":0.5},{"s":"e5","hz":2380,"amp":0.05},{"s":"e5","hz":2500,"amp":0.08},{"s":"e5","hz":2590,"amp":0.3},{"s":"e5","hz":2612,"amp":3},{"s":"e5","hz":2630,"amp":7.5},{"s":"e5","hz":2648,"amp":3.5},{"s":"e5","hz":2668,"amp":0.3},{"s":"e5","hz":2720,"amp":0.04},{"s":"e5","hz":2850,"amp":0.1},{"s":"e5","hz":2925,"amp":0.6},{"s":"e5","hz":2945,"amp":2.8},{"s":"e5","hz":2957,"amp":2.4},
{"s":"e3","hz":12,"amp":0.1},{"s":"e3","hz":100,"amp":0.03},{"s":"e3","hz":250,"amp":0.12},{"s":"e3","hz":310,"amp":0.2},{"s":"e3","hz":325,"amp":0.9},{"s":"e3","hz":333,"amp":1.1},{"s":"e3","hz":350,"amp":0.15},{"s":"e3","hz":450,"amp":0.05},{"s":"e3","hz":620,"amp":0.3},{"s":"e3","hz":648,"amp":2.5},{"s":"e3","hz":657,"amp":5.5},{"s":"e3","hz":668,"amp":3},{"s":"e3","hz":690,"amp":0.15},{"s":"e3","hz":820,"amp":0.05},{"s":"e3","hz":945,"amp":0.4},{"s":"e3","hz":970,"amp":6},{"s":"e3","hz":983,"amp":20},{"s":"e3","hz":997,"amp":14},{"s":"e3","hz":1012,"amp":1.5},{"s":"e3","hz":1040,"amp":0.2},{"s":"e3","hz":1180,"amp":0.04},{"s":"e3","hz":1300,"amp":0.6},{"s":"e3","hz":1313,"amp":4.5},{"s":"e3","hz":1326,"amp":6.5},{"s":"e3","hz":1340,"amp":1.2},{"s":"e3","hz":1370,"amp":0.12},{"s":"e3","hz":1560,"amp":0.04},{"s":"e3","hz":1630,"amp":0.4},{"s":"e3","hz":1646,"amp":2},{"s":"e3","hz":1660,"amp":2.3},{"s":"e3","hz":1675,"amp":0.3},{"s":"e3","hz":1900,"amp":0.05},{"s":"e3","hz":1960,"amp":0.4},{"s":"e3","hz":1975,"amp":2.0},{"s":"e3","hz":1990,"amp":1.8},{"s":"e3","hz":2005,"amp":0.2},{"s":"e3","hz":2200,"amp":0.05},{"s":"e3","hz":2285,"amp":0.5},{"s":"e3","hz":2302,"amp":3.2},{"s":"e3","hz":2318,"amp":3.8},{"s":"e3","hz":2340,"amp":0.4},{"s":"e3","hz":2450,"amp":0.04},{"s":"e3","hz":2610,"amp":0.7},{"s":"e3","hz":2628,"amp":5},{"s":"e3","hz":2645,"amp":6.3},{"s":"e3","hz":2660,"amp":1.5},{"s":"e3","hz":2700,"amp":0.05},{"s":"e3","hz":2880,"amp":0.25},{"s":"e3","hz":2938,"amp":0.8},{"s":"e3","hz":2955,"amp":3.8},
{"s":"e2","hz":12,"amp":0.04},{"s":"e2","hz":200,"amp":0.08},{"s":"e2","hz":300,"amp":0.05},{"s":"e2","hz":312,"amp":0.4},{"s":"e2","hz":328,"amp":1.2},{"s":"e2","hz":345,"amp":0.3},{"s":"e2","hz":360,"amp":0.08},{"s":"e2","hz":480,"amp":0.12},{"s":"e2","hz":560,"amp":0.03},{"s":"e2","hz":635,"amp":0.6},{"s":"e2","hz":650,"amp":4},{"s":"e2","hz":661,"amp":7},{"s":"e2","hz":675,"amp":2},{"s":"e2","hz":695,"amp":0.2},{"s":"e2","hz":800,"amp":0.04},{"s":"e2","hz":900,"amp":0.15},{"s":"e2","hz":955,"amp":0.8},{"s":"e2","hz":975,"amp":12},{"s":"e2","hz":986,"amp":32},{"s":"e2","hz":996,"amp":26},{"s":"e2","hz":1010,"amp":5},{"s":"e2","hz":1030,"amp":0.3},{"s":"e2","hz":1150,"amp":0.05},{"s":"e2","hz":1250,"amp":0.2},{"s":"e2","hz":1295,"amp":0.8},{"s":"e2","hz":1310,"amp":5},{"s":"e2","hz":1322,"amp":8.2},{"s":"e2","hz":1335,"amp":2},{"s":"e2","hz":1355,"amp":0.2},{"s":"e2","hz":1500,"amp":0.04},{"s":"e2","hz":1625,"amp":0.5},{"s":"e2","hz":1642,"amp":2.6},{"s":"e2","hz":1655,"amp":2.9},{"s":"e2","hz":1670,"amp":0.6},{"s":"e2","hz":1700,"amp":0.05},{"s":"e2","hz":1850,"amp":0.15},{"s":"e2","hz":1955,"amp":0.5},{"s":"e2","hz":1972,"amp":2.5},{"s":"e2","hz":1985,"amp":2.2},{"s":"e2","hz":2002,"amp":0.3},{"s":"e2","hz":2100,"amp":0.03},{"s":"e2","hz":2280,"amp":0.5},{"s":"e2","hz":2298,"amp":3.5},{"s":"e2","hz":2312,"amp":4.6},{"s":"e2","hz":2330,"amp":0.8},{"s":"e2","hz":2360,"amp":0.15},{"s":"e2","hz":2520,"amp":0.06},{"s":"e2","hz":2605,"amp":0.8},{"s":"e2","hz":2626,"amp":6},{"s":"e2","hz":2640,"amp":8.5},{"s":"e2","hz":2655,"amp":2},{"s":"e2","hz":2685,"amp":0.15},{"s":"e2","hz":2850,"amp":0.05},{"s":"e2","hz":2930,"amp":0.4},{"s":"e2","hz":2950,"amp":2.5},{"s":"e2","hz":2957,"amp":2.2},
{"s":"e6","hz":12,"amp":0.02},{"s":"e6","hz":90,"amp":0.05},{"s":"e6","hz":200,"amp":0.1},{"s":"e6","hz":300,"amp":0.03},{"s":"e6","hz":320,"amp":0.6},{"s":"e6","hz":335,"amp":1.0},{"s":"e6","hz":350,"amp":0.3},{"s":"e6","hz":370,"amp":0.05},{"s":"e6","hz":500,"amp":0.04},{"s":"e6","hz":600,"amp":0.12},{"s":"e6","hz":642,"amp":2},{"s":"e6","hz":656,"amp":6.8},{"s":"e6","hz":668,"amp":4.8},{"s":"e6","hz":684,"amp":0.5},{"s":"e6","hz":720,"amp":0.05},{"s":"e6","hz":830,"amp":0.1},{"s":"e6","hz":920,"amp":0.2},{"s":"e6","hz":958,"amp":2.5},{"s":"e6","hz":972,"amp":14},{"s":"e6","hz":988,"amp":36},{"s":"e6","hz":1000,"amp":18},{"s":"e6","hz":1012,"amp":2.5},{"s":"e6","hz":1035,"amp":0.2},{"s":"e6","hz":1090,"amp":0.05},{"s":"e6","hz":1180,"amp":0.1},{"s":"e6","hz":1280,"amp":0.2},{"s":"e6","hz":1302,"amp":2},{"s":"e6","hz":1316,"amp":8.8},{"s":"e6","hz":1328,"amp":5},{"s":"e6","hz":1342,"amp":0.8},{"s":"e6","hz":1380,"amp":0.06},{"s":"e6","hz":1520,"amp":0.04},{"s":"e6","hz":1600,"amp":0.1},{"s":"e6","hz":1632,"amp":1.2},{"s":"e6","hz":1644,"amp":2.8},{"s":"e6","hz":1660,"amp":2.4},{"s":"e6","hz":1678,"amp":0.4},{"s":"e6","hz":1720,"amp":0.04},{"s":"e6","hz":1860,"amp":0.05},{"s":"e6","hz":1940,"amp":0.2},{"s":"e6","hz":1962,"amp":1.5},{"s":"e6","hz":1976,"amp":3.5},{"s":"e6","hz":1990,"amp":1.2},{"s":"e6","hz":2010,"amp":0.1},{"s":"e6","hz":2080,"amp":0.03},{"s":"e6","hz":2230,"amp":0.08},{"s":"e6","hz":2278,"amp":0.8},{"s":"e6","hz":2296,"amp":4},{"s":"e6","hz":2310,"amp":5},{"s":"e6","hz":2326,"amp":1.5},{"s":"e6","hz":2350,"amp":0.2},{"s":"e6","hz":2420,"amp":0.04},{"s":"e6","hz":2560,"amp":0.1},{"s":"e6","hz":2600,"amp":0.8},{"s":"e6","hz":2618,"amp":5.5},{"s":"e6","hz":2633,"amp":9.5},{"s":"e6","hz":2648,"amp":6},{"s":"e6","hz":2665,"amp":0.8},{"s":"e6","hz":2700,"amp":0.05},{"s":"e6","hz":2800,"amp":0.03},{"s":"e6","hz":2900,"amp":0.2},{"s":"e6","hz":2935,"amp":1.2},{"s":"e6","hz":2957,"amp":3.5},
{"s":"e1","hz":12,"amp":0.08},{"s":"e1","hz":150,"amp":0.03},{"s":"e1","hz":280,"amp":0.1},{"s":"e1","hz":305,"amp":0.3},{"s":"e1","hz":318,"amp":0.9},{"s":"e1","hz":330,"amp":1.5},{"s":"e1","hz":342,"amp":0.8},{"s":"e1","hz":355,"amp":0.12},{"s":"e1","hz":420,"amp":0.04},{"s":"e1","hz":500,"amp":0.15},{"s":"e1","hz":600,"amp":0.06},{"s":"e1","hz":630,"amp":0.5},{"s":"e1","hz":645,"amp":3},{"s":"e1","hz":659,"amp":8.2},{"s":"e1","hz":672,"amp":3.5},{"s":"e1","hz":690,"amp":0.4},{"s":"e1","hz":760,"amp":0.05},{"s":"e1","hz":850,"amp":0.2},{"s":"e1","hz":940,"amp":0.5},{"s":"e1","hz":962,"amp":4},{"s":"e1","hz":977,"amp":20},{"s":"e1","hz":989,"amp":40},{"s":"e1","hz":1001,"amp":22},{"s":"e1","hz":1015,"amp":4},{"s":"e1","hz":1040,"amp":0.4},{"s":"e1","hz":1120,"amp":0.05},{"s":"e1","hz":1200,"amp":0.25},{"s":"e1","hz":1290,"amp":0.5},{"s":"e1","hz":1305,"amp":3},{"s":"e1","hz":1318,"amp":9.8},{"s":"e1","hz":1331,"amp":4},{"s":"e1","hz":1350,"amp":0.4},{"s":"e1","hz":1450,"amp":0.05},{"s":"e1","hz":1610,"amp":0.3},{"s":"e1","hz":1635,"amp":1.5},{"s":"e1","hz":1648,"amp":3.3},{"s":"e1","hz":1661,"amp":1.8},{"s":"e1","hz":1685,"amp":0.2},{"s":"e1","hz":1800,"amp":0.04},{"s":"e1","hz":1945,"amp":0.3},{"s":"e1","hz":1965,"amp":1.6},{"s":"e1","hz":1978,"amp":3.0},{"s":"e1","hz":1991,"amp":1.5},{"s":"e1","hz":2010,"amp":0.3},{"s":"e1","hz":2150,"amp":0.05},{"s":"e1","hz":2270,"amp":0.4},{"s":"e1","hz":2292,"amp":2.5},{"s":"e1","hz":2307,"amp":5.4},{"s":"e1","hz":2320,"amp":2.5},{"s":"e1","hz":2345,"amp":0.35},{"s":"e1","hz":2480,"amp":0.05},{"s":"e1","hz":2600,"amp":0.5},{"s":"e1","hz":2620,"amp":4},{"s":"e1","hz":2635,"amp":10.4},{"s":"e1","hz":2650,"amp":4.5},{"s":"e1","hz":2675,"amp":0.3},{"s":"e1","hz":2800,"amp":0.05},{"s":"e1","hz":2920,"amp":0.5},{"s":"e1","hz":2945,"amp":3.8},{"s":"e1","hz":2957,"amp":3.0}
],
"orange":[
{"hz":12,"amp":0.04},{"hz":23,"amp":0.015},{"hz":46,"amp":0.005},{"hz":61,"amp":0.01},{"hz":77,"amp":0.01},{"hz":99,"amp":0.01},{"hz":122,"amp":0},{"hz":135,"amp":0.01},{"hz":157,"amp":0.02},{"hz":173,"amp":0.015},{"hz":189,"amp":0.04},{"hz":207,"amp":0.027},{"hz":222,"amp":0},{"hz":236,"amp":0.045},{"hz":251,"amp":0.01},{"hz":263,"amp":0.027},{"hz":278,"amp":0.005},{"hz":292,"amp":0.04},{"hz":301,"amp":0.04},{"hz":307,"amp":0.085},{"hz":314,"amp":0.3},{"hz":321,"amp":0.92},{"hz":325,"amp":1.43},{"hz":330,"amp":1.45},{"hz":334,"amp":1.21},{"hz":339,"amp":0.67},{"hz":343,"amp":0.13},{"hz":348,"amp":0.07},{"hz":357,"amp":0.07},{"hz":368,"amp":0.045},{"hz":379,"amp":0.01},{"hz":390,"amp":0.065},{"hz":401,"amp":0.045},{"hz":412,"amp":0.02},{"hz":424,"amp":0},{"hz":435,"amp":0.04},{"hz":446,"amp":0.027},{"hz":457,"amp":0.01},{"hz":466,"amp":0.027},{"hz":480,"amp":0.04},{"hz":493,"amp":0.01},{"hz":504,"amp":0.04},{"hz":520,"amp":0.05},{"hz":527,"amp":0.01},{"hz":538,"amp":0.04},{"hz":549,"amp":0},{"hz":560,"amp":0.04},{"hz":571,"amp":0.06},{"hz":583,"amp":0.027},{"hz":594,"amp":0.027},{"hz":603,"amp":0.106},{"hz":609,"amp":0.09},{"hz":616,"amp":0.106},{"hz":625,"amp":0.11},{"hz":632,"amp":0.21},{"hz":639,"amp":1.0},{"hz":645,"amp":2.8},{"hz":652,"amp":4.8},{"hz":659,"amp":6.4},{"hz":663,"amp":5.8},{"hz":668,"amp":3.8},{"hz":672,"amp":1.2},{"hz":679,"amp":0.3},{"hz":688,"amp":0.14},{"hz":699,"amp":0.11},{"hz":710,"amp":0.07},{"hz":721,"amp":0.045},{"hz":733,"amp":0.01},{"hz":744,"amp":0.01},{"hz":755,"amp":0.005},{"hz":767,"amp":0.045},{"hz":775,"amp":0.17},{"hz":784,"amp":0.09},{"hz":795,"amp":0.28},{"hz":806,"amp":0.13},{"hz":822,"amp":0.06},{"hz":837,"amp":0.045},{"hz":851,"amp":0.08},{"hz":867,"amp":0.04},{"hz":882,"amp":0.027},{"hz":889,"amp":0.04},{"hz":905,"amp":0.06},{"hz":912,"amp":0.11},{"hz":918,"amp":0.08},{"hz":929,"amp":0.106},{"hz":941,"amp":0.21},{"hz":950,"amp":0.3},{"hz":959,"amp":0.35},{"hz":968,"amp":1.2},{"hz":975,"amp":3.8},{"hz":980,"amp":8},{"hz":986,"amp":24},{"hz":994,"amp":24.3},{"hz":999,"amp":20.5},{"hz":1001,"amp":14.8},{"hz":1003,"amp":9.2},{"hz":1006,"amp":6.1},{"hz":1010,"amp":2.0},{"hz":1015,"amp":0.67},{"hz":1021,"amp":0.21},{"hz":1028,"amp":0.16},{"hz":1035,"amp":0.15},{"hz":1046,"amp":0.21},{"hz":1053,"amp":0.13},{"hz":1064,"amp":0.17},{"hz":1075,"amp":0.106},{"hz":1086,"amp":0.027},{"hz":1098,"amp":0.015},{"hz":1113,"amp":0.06},{"hz":1129,"amp":0},{"hz":1140,"amp":0.07},{"hz":1151,"amp":0.14},{"hz":1162,"amp":0.17},{"hz":1169,"amp":0.3},{"hz":1176,"amp":0.67},{"hz":1182,"amp":0.86},{"hz":1187,"amp":0.53},{"hz":1194,"amp":0.21},{"hz":1198,"amp":0.045},{"hz":1209,"amp":0.13},{"hz":1220,"amp":0.21},{"hz":1232,"amp":0.14},{"hz":1243,"amp":0.17},{"hz":1254,"amp":0.14},{"hz":1265,"amp":0.19},{"hz":1276,"amp":0.106},{"hz":1288,"amp":0.21},{"hz":1297,"amp":0.53},{"hz":1303,"amp":1.45},{"hz":1310,"amp":4.45},{"hz":1317,"amp":8.0},{"hz":1321,"amp":9.5},{"hz":1326,"amp":8.6},{"hz":1330,"amp":6.0},{"hz":1334,"amp":3.3},{"hz":1339,"amp":1.2},{"hz":1343,"amp":0.4},{"hz":1350,"amp":0.17},{"hz":1359,"amp":0.11},{"hz":1371,"amp":0.07},{"hz":1382,"amp":0.13},{"hz":1393,"amp":0.045},{"hz":1404,"amp":0.17},{"hz":1415,"amp":0.09},{"hz":1426,"amp":0.035},{"hz":1437,"amp":0.11},{"hz":1449,"amp":0.06},{"hz":1460,"amp":0.02},{"hz":1471,"amp":0.07},{"hz":1482,"amp":0.045},{"hz":1494,"amp":0.13},{"hz":1505,"amp":0.06},{"hz":1516,"amp":0.02},{"hz":1527,"amp":0.07},{"hz":1538,"amp":0.045},{"hz":1549,"amp":0.027},{"hz":1561,"amp":0.085},{"hz":1572,"amp":0.045},{"hz":1583,"amp":0.02},{"hz":1594,"amp":0.07},{"hz":1605,"amp":0.13},{"hz":1614,"amp":0.21},{"hz":1623,"amp":0.3},{"hz":1632,"amp":0.67},{"hz":1639,"amp":1.6},{"hz":1646,"amp":2.1},{"hz":1652,"amp":1.6},{"hz":1659,"amp":2.04},{"hz":1666,"amp":1.0},{"hz":1670,"amp":0.3},{"hz":1677,"amp":0.13},{"hz":1686,"amp":0.07},{"hz":1695,"amp":0.027},{"hz":1706,"amp":0.06},{"hz":1717,"amp":0.09},{"hz":1728,"amp":0.045},{"hz":1740,"amp":0.02},{"hz":1751,"amp":0.07},{"hz":1762,"amp":0.045},{"hz":1773,"amp":0.11},{"hz":1784,"amp":0.06},{"hz":1795,"amp":0.02},{"hz":1807,"amp":0.07},{"hz":1818,"amp":0.13},{"hz":1829,"amp":0.175},{"hz":1840,"amp":0.09},{"hz":1851,"amp":0.045},{"hz":1863,"amp":0.07},{"hz":1874,"amp":0.027},{"hz":1885,"amp":0.07},{"hz":1896,"amp":0.045},{"hz":1907,"amp":0.085},{"hz":1918,"amp":0.1},{"hz":1941,"amp":0.1},{"hz":1948,"amp":0.04},{"hz":1957,"amp":0.027},{"hz":1961,"amp":0.3},{"hz":1966,"amp":1.0},{"hz":1970,"amp":1.5},{"hz":1977,"amp":2.8},{"hz":1983,"amp":3.95},{"hz":1990,"amp":2.9},{"hz":1992,"amp":1.8},{"hz":1997,"amp":1.0},{"hz":2001,"amp":0.56},{"hz":2006,"amp":0.3},{"hz":2013,"amp":0.15},{"hz":2019,"amp":0.08},{"hz":2030,"amp":0.01},{"hz":2042,"amp":0.027},{"hz":2053,"amp":0.04},{"hz":2064,"amp":0.015},{"hz":2075,"amp":0.04},{"hz":2086,"amp":0.01},{"hz":2098,"amp":0.04},{"hz":2109,"amp":0.027},{"hz":2116,"amp":0.09},{"hz":2124,"amp":0.015},{"hz":2136,"amp":0.015},{"hz":2147,"amp":0.06},{"hz":2158,"amp":0.106},{"hz":2165,"amp":0.28},{"hz":2172,"amp":0.15},{"hz":2180,"amp":0.11},{"hz":2187,"amp":0.09},{"hz":2194,"amp":0.07},{"hz":2205,"amp":0.11},{"hz":2216,"amp":0.11},{"hz":2228,"amp":0.14},{"hz":2239,"amp":0.13},{"hz":2248,"amp":0.14},{"hz":2254,"amp":0.06},{"hz":2261,"amp":0.08},{"hz":2266,"amp":0.11},{"hz":2270,"amp":0.06},{"hz":2277,"amp":0.045},{"hz":2284,"amp":0.3},{"hz":2292,"amp":1.0},{"hz":2299,"amp":2.04},{"hz":2303,"amp":1.5},{"hz":2306,"amp":1.0},{"hz":2315,"amp":1.8},{"hz":2319,"amp":1.8},{"hz":2326,"amp":0.8},{"hz":2333,"amp":0.72},{"hz":2339,"amp":0.41},{"hz":2348,"amp":0.3},{"hz":2353,"amp":0.27},{"hz":2359,"amp":0.106},{"hz":2366,"amp":0.06},{"hz":2382,"amp":0.106},{"hz":2393,"amp":0.13},{"hz":2404,"amp":0.07},{"hz":2418,"amp":0.13},{"hz":2433,"amp":0.08},{"hz":2445,"amp":0.027},{"hz":2456,"amp":0.07},{"hz":2467,"amp":0.106},{"hz":2478,"amp":0.09},{"hz":2489,"amp":0.21},{"hz":2500,"amp":0.13},{"hz":2507,"amp":0.17},{"hz":2516,"amp":0.21},{"hz":2527,"amp":0.23},{"hz":2539,"amp":0.13},{"hz":2550,"amp":0.17},{"hz":2563,"amp":0.07},{"hz":2574,"amp":0.027},{"hz":2583,"amp":0.21},{"hz":2592,"amp":0.67},{"hz":2601,"amp":1.1},{"hz":2610,"amp":1.73},{"hz":2617,"amp":1.73},{"hz":2624,"amp":3.4},{"hz":2628,"amp":3.83},{"hz":2635,"amp":3.4},{"hz":2642,"amp":2.9},{"hz":2648,"amp":3.4},{"hz":2653,"amp":3.9},{"hz":2655,"amp":2.5},{"hz":2660,"amp":1.73},{"hz":2664,"amp":0.82},{"hz":2671,"amp":0.3},{"hz":2677,"amp":0.13},{"hz":2684,"amp":0.027},{"hz":2695,"amp":0},{"hz":2706,"amp":0.04},{"hz":2720,"amp":0.08},{"hz":2731,"amp":0.015},{"hz":2742,"amp":0},{"hz":2753,"amp":0.08},{"hz":2764,"amp":0.106},{"hz":2776,"amp":0.21},{"hz":2787,"amp":0.17},{"hz":2798,"amp":0.11},{"hz":2814,"amp":0.09},{"hz":2829,"amp":0.07},{"hz":2843,"amp":0.106},{"hz":2858,"amp":0.06},{"hz":2874,"amp":0.08},{"hz":2887,"amp":0.09},{"hz":2899,"amp":0.04},{"hz":2910,"amp":0.09},{"hz":2921,"amp":0.13},{"hz":2932,"amp":0.08},{"hz":2944,"amp":0.13},{"hz":2957,"amp":0.11}
]
},
"encoding":{
"x":{"field":"hz","type":"quantitative","scale":{"domain":[12,2957],"nice":false,"zero":false},
"axis":{"values":[600,1200,1800,2400],"format":"d","grid":true,"gridColor":"#5a5a5a","gridWidth":1,"domainColor":"#ffffff","domainWidth":1,"tickColor":"#ffffff","tickSize":-8,"tickWidth":1,"labelColor":"#ffffff","labelFontSize":13,"labelPadding":13,"labelFlush":false,"title":"Hz","titleColor":"#ffffff","titleFontSize":13,"titleFontWeight":"normal","titleX":1229,"titleY":27,"titleAlign":"center","titleBaseline":"alphabetic","titleAnchor":null}},
"y":{"field":"amp","type":"quantitative","scale":{"type":"symlog","constant":0.42,"domain":[0,37.3],"nice":false},
"axis":{"values":[0.2,0.3,0.4,0.5,0.6,0.7,0.8,0.9,1,2,3,4,5,6,7,8,9,10,20,30],"grid":true,"gridColor":"#5a5a5a","gridWidth":1,"domainColor":"#ffffff","domainWidth":1,"tickColor":{"condition":{"test":"datum.value===1||datum.value===10","value":"#ffffff"},"value":"transparent"},"tickSize":-9,"tickWidth":1,"labelExpr":"datum.value===1||datum.value===10?datum.label:''","labelColor":"#ffffff","labelFontSize":13,"labelPadding":15,"labelOffset":3,"labelBaseline":"middle","title":null}}
},
"layer":[
{"data":{"name":"teal"},"transform":[{"filter":{"field":"s","oneOf":["f1","b1","c1","d2","d1","a1"]}}],"mark":{"type":"line","strokeWidth":1,"clip":true,"interpolate":"monotone"},
"encoding":{"color":{"field":"s","type":"nominal","legend":null,"scale":{"domain":["fl3","fl2","fl1","g3","g4","g2","f1","g1","b1","c1","d2","d1","a1","e4","e5","e3","e2","e6","e1"],"range":["#0b6f6f","#0d8585","#109999","#0a4747","#0b4e4e","#0c5555","#0c5c5c","#0d5c5c","#0d6a6a","#0e7474","#0e7070","#108080","#108484","#118a8a","#129292","#139898","#14a0a0","#15a6a6","#17aeae"]}}}},
{"data":{"name":"teal"},"transform":[{"filter":{"field":"s","oneOf":["fl3","fl2","fl1","g3","g4","g2","g1","e4","e5","e3","e2","e6","e1"]}}],"mark":{"type":"line","strokeWidth":1,"clip":true,"interpolate":"linear"},
"encoding":{"color":{"field":"s","type":"nominal","legend":null}}},
{"data":{"name":"orange"},"mark":{"type":"line","strokeWidth":1,"clip":true,"color":"#ff7352","interpolate":"linear"},"encoding":{}}
]
}
